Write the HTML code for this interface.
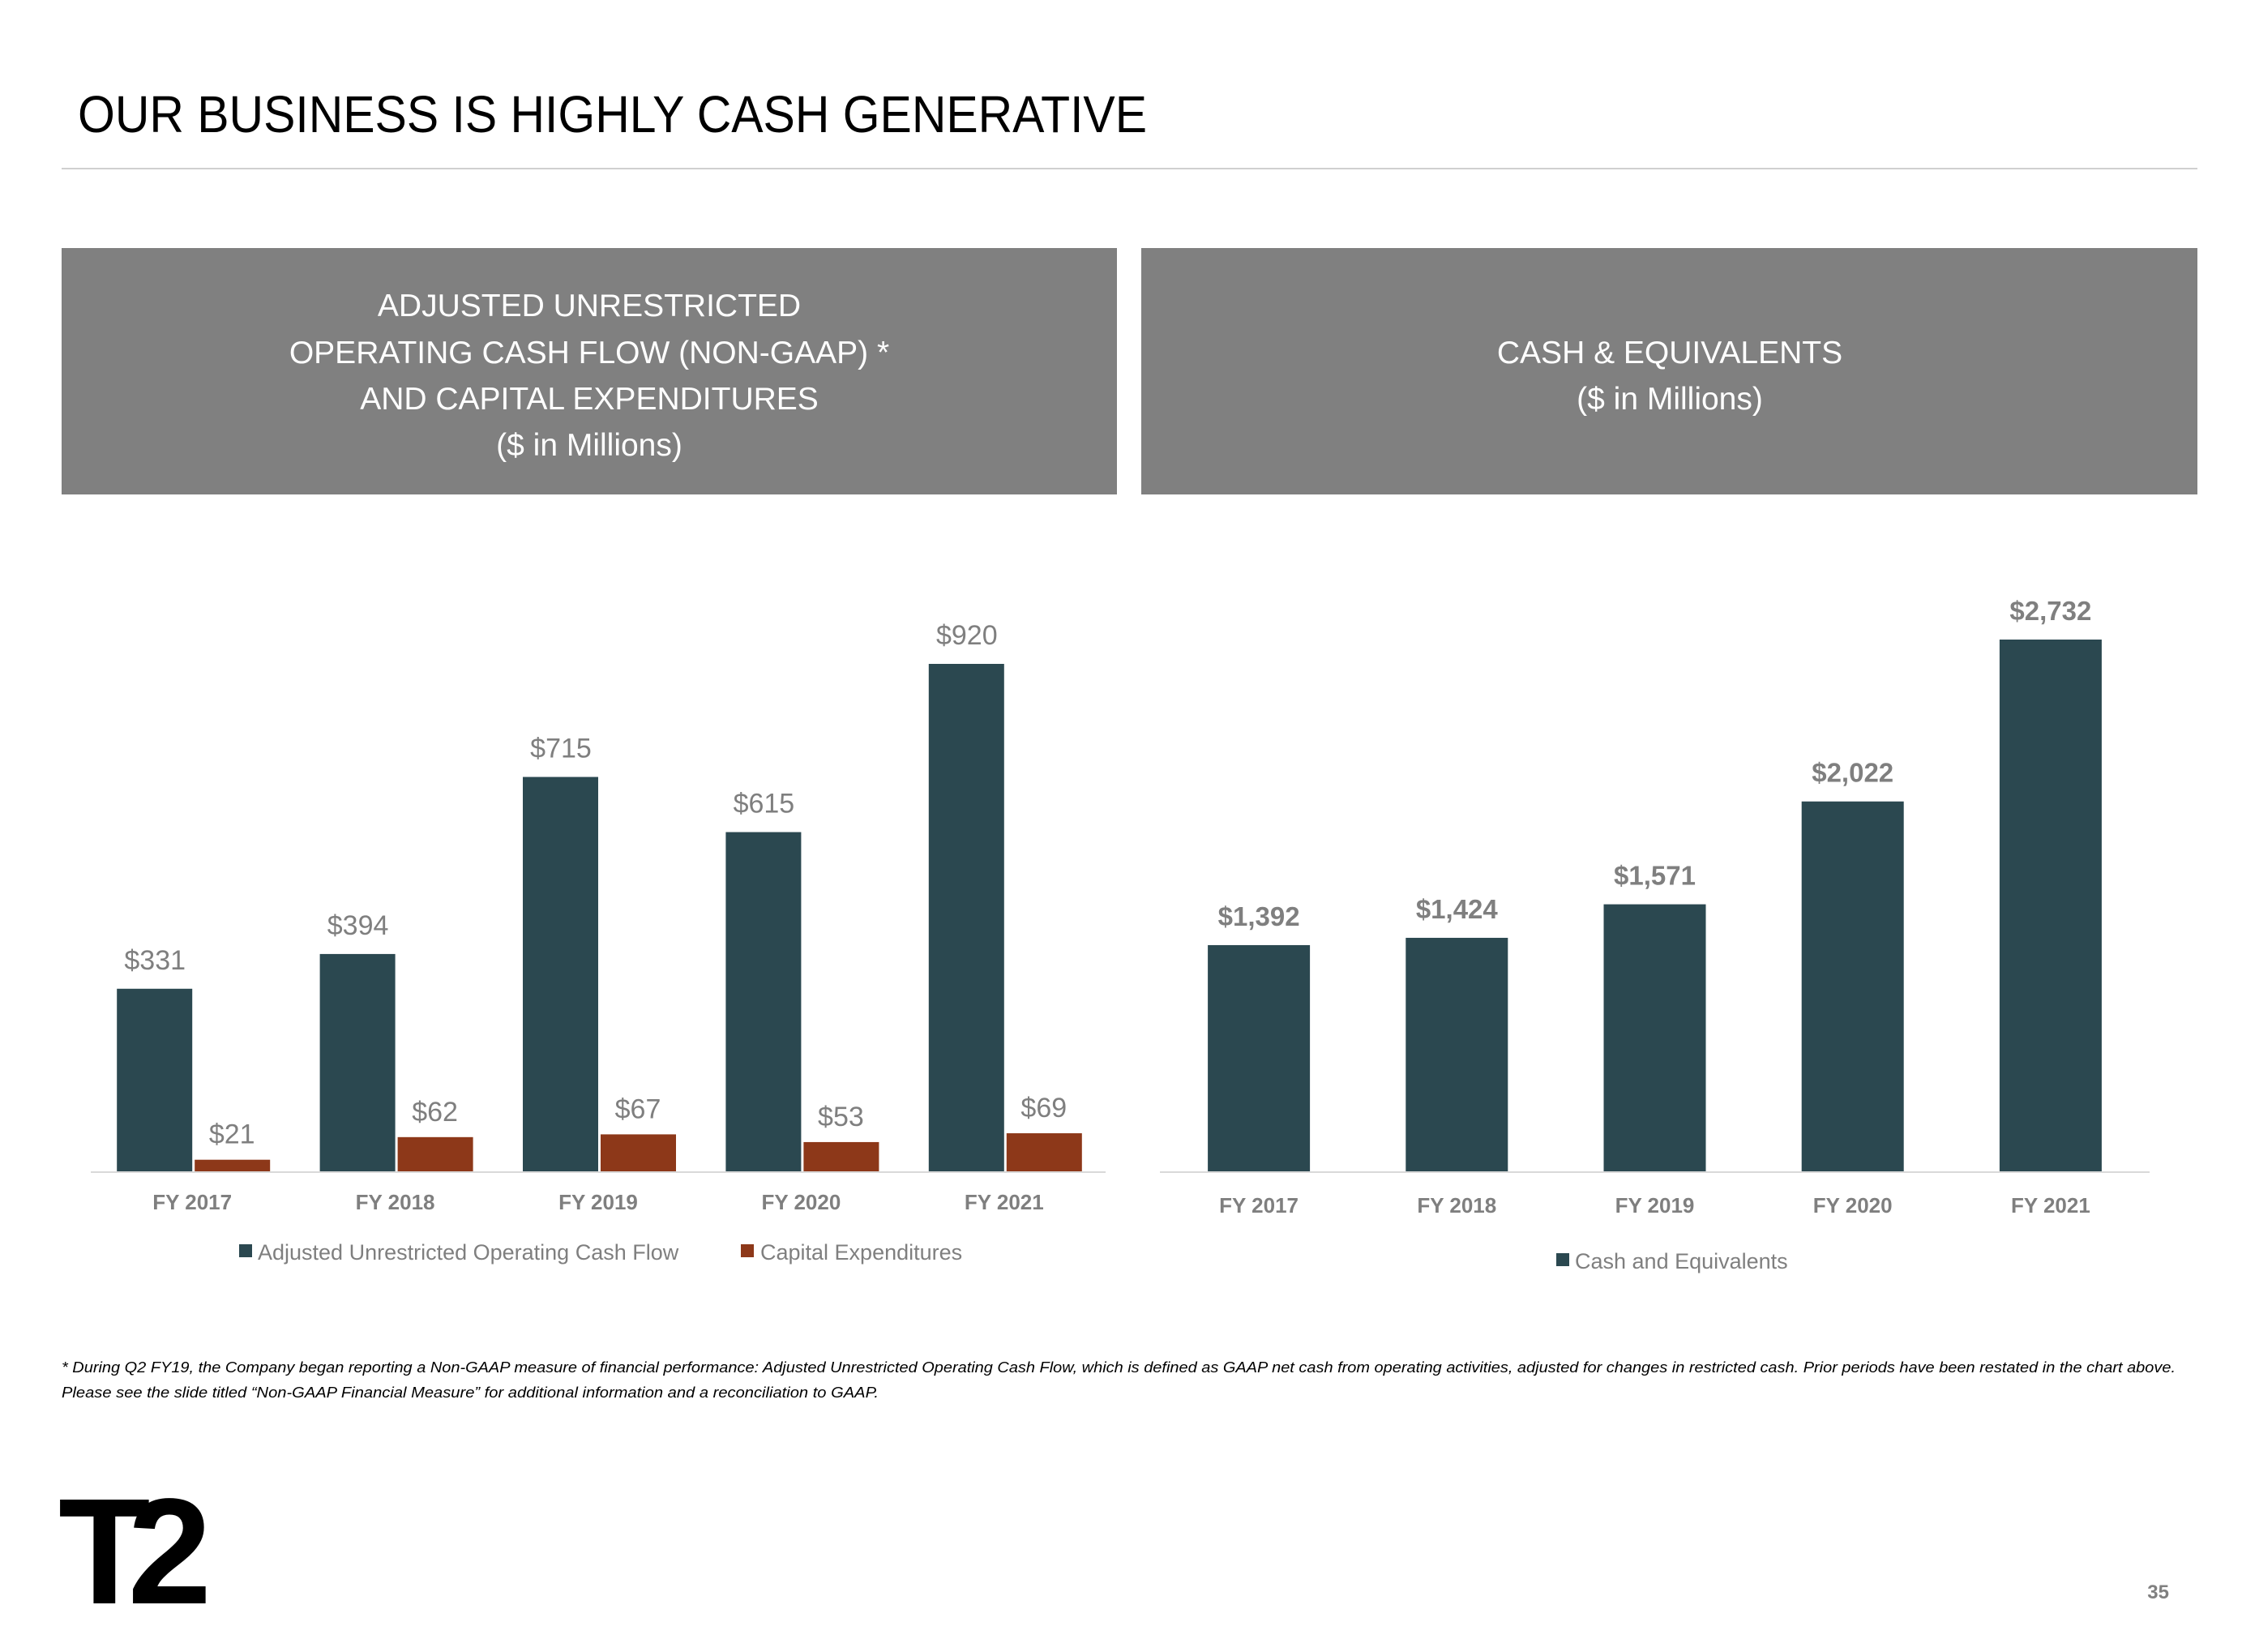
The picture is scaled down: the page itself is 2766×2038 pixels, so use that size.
<!DOCTYPE html>
<html><head><meta charset="utf-8"><style>
html,body{margin:0;padding:0;background:#fff;}
svg{display:block;font-family:"Liberation Sans",sans-serif;}
</style></head><body>
<svg width="2766" height="2038" viewBox="0 0 2766 2038" xmlns="http://www.w3.org/2000/svg">
<text x="96" y="163" font-size="64" fill="#000" textLength="1319" lengthAdjust="spacingAndGlyphs">OUR BUSINESS IS HIGHLY CASH GENERATIVE</text>
<rect x="76" y="207" width="2635" height="2" fill="#d0d0d0"/>
<rect x="76" y="306" width="1302" height="304" fill="#808080"/>
<rect x="1408" y="306" width="1303" height="304" fill="#808080"/>
<g fill="#fff" font-size="39" text-anchor="middle">
<text x="727" y="390">ADJUSTED UNRESTRICTED</text>
<text x="727" y="448">OPERATING CASH FLOW (NON-GAAP) *</text>
<text x="727" y="505">AND CAPITAL EXPENDITURES</text>
<text x="727" y="562">($ in Millions)</text>
</g>
<g fill="#fff" font-size="39" text-anchor="middle">
<text x="2060" y="448">CASH &amp; EQUIVALENTS</text>
<text x="2060" y="505">($ in Millions)</text>
</g>
<g id="left-chart"></g>
<g id="right-chart"></g>
<g font-size="18" font-style="italic" fill="#000">
<text x="76" y="1693" textLength="2608" lengthAdjust="spacingAndGlyphs">*  During Q2 FY19, the Company began reporting a Non-GAAP measure of financial performance: Adjusted Unrestricted Operating Cash Flow, which is defined as GAAP net cash from operating activities, adjusted for changes in restricted cash. Prior periods have been restated in the chart above.</text>
<text x="76" y="1724" textLength="1008" lengthAdjust="spacingAndGlyphs">Please see the slide titled “Non-GAAP Financial Measure” for additional information and a reconciliation to GAAP.</text>
</g>
<text x="72" y="1978" font-size="186" font-weight="bold" letter-spacing="-28" fill="#000">T2</text>
<text x="2676" y="1972" font-size="24" font-weight="bold" fill="#808080" text-anchor="end">35</text>
</svg>
<script>
const categories = ["FY 2017","FY 2018","FY 2019","FY 2020","FY 2021"];
const cashFlow = [331,394,715,615,920];
const capex = [21,62,67,53,69];
const cashEq = [1392,1424,1571,2022,2732];
const cashFlowLabels = ["$331","$394","$715","$615","$920"];
const capexLabels = ["$21","$62","$67","$53","$69"];
const cashEqLabels = ["$1,392","$1,424","$1,571","$2,022","$2,732"];
const NS="http://www.w3.org/2000/svg";
function mk(parent,tag,attrs,text){const e=document.createElementNS(NS,tag);for(const k in attrs)e.setAttribute(k,attrs[k]);if(text!==undefined)e.textContent=text;parent.appendChild(e);return e;}
// left chart
const L=document.getElementById('left-chart');
const lBase=1445, lX0=112, lX1=1364, lBand=(lX1-lX0)/5, lK=626/920;
const ly=v=>lBase-v*lK;
mk(L,'rect',{x:lX0,y:lBase,width:lX1-lX0,height:2,fill:'#d9d9d9'});
categories.forEach((c,i)=>{
  const cx=lX0+lBand*(i+0.5);
  let r=mk(L,'rect',{x:cx-93,y:ly(cashFlow[i]),width:93,height:lBase-ly(cashFlow[i]),fill:'#2b4850'});
  
  
  r=mk(L,'rect',{x:cx+3,y:ly(capex[i]),width:93,height:lBase-ly(capex[i]),fill:'#8d3819'});
  
  
  let t=mk(L,'text',{x:cx-46,y:ly(cashFlow[i])-24,'font-size':34,fill:'#7f7f7f','text-anchor':'middle'},cashFlowLabels[i]);
  
  
  t=mk(L,'text',{x:cx+49,y:ly(capex[i])-20,'font-size':34,fill:'#7f7f7f','text-anchor':'middle'},capexLabels[i]);
  
  
  t=mk(L,'text',{x:cx,y:1492,'font-size':26,'font-weight':'bold',fill:'#7f7f7f','text-anchor':'middle'},c);
  
  
});
let lg=mk(L,'g',{});


mk(lg,'rect',{x:295,y:1535,width:16,height:16,fill:'#2b4850'});
mk(lg,'text',{x:318,y:1554,'font-size':27,fill:'#7f7f7f'},'Adjusted Unrestricted Operating Cash Flow');
mk(lg,'rect',{x:914,y:1535,width:16,height:16,fill:'#8d3819'});
mk(lg,'text',{x:938,y:1554,'font-size':27,fill:'#7f7f7f'},'Capital Expenditures');
// right chart
const R=document.getElementById('right-chart');
const rBase=1445, rX0=1431, rX1=2652, rBand=(rX1-rX0)/5, rMin=400, rK=656/(2732-400);
const ry=v=>rBase-(v-rMin)*rK;
mk(R,'rect',{x:rX0,y:rBase,width:rX1-rX0,height:2,fill:'#d9d9d9'});
categories.forEach((c,i)=>{
  const cx=rX0+rBand*(i+0.5);
  let r=mk(R,'rect',{x:cx-63,y:ry(cashEq[i]),width:126,height:rBase-ry(cashEq[i]),fill:'#2b4850'});
  
  
  let t=mk(R,'text',{x:cx,y:ry(cashEq[i])-24,'font-size':33,'font-weight':'bold',fill:'#7f7f7f','text-anchor':'middle'},cashEqLabels[i]);
  
  
  t=mk(R,'text',{x:cx,y:1496,'font-size':26,'font-weight':'bold',fill:'#7f7f7f','text-anchor':'middle'},c);
  
  
});
let rg=mk(R,'g',{});


mk(rg,'rect',{x:1920,y:1546,width:16,height:16,fill:'#2b4850'});
mk(rg,'text',{x:1943,y:1565,'font-size':27,fill:'#7f7f7f'},'Cash and Equivalents');
</script>
</body></html>
